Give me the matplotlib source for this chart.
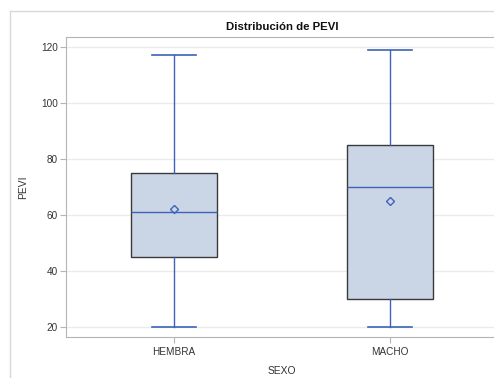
import matplotlib
matplotlib.use('Agg')
import matplotlib.pyplot as plt
from matplotlib.lines import Line2D

# PEVI summary per sex
categories = ['HEMBRA', 'MACHO']
whisker_low = [20, 20]
q1 = [45, 30]
median = [61, 70]
q3 = [75, 85]
whisker_high = [117, 119]
mean = [62, 65]
y_ticks = [20, 40, 60, 80, 100, 120]

plt.rcParams['font.family'] = ['Liberation Sans', 'DejaVu Sans']

line_blue = '#3D63B8'
fill_blue = '#CAD5E6'

fig = plt.figure(figsize=(4.94, 3.78), dpi=100)
# outer graph frame (left and top edges show)
fig.add_artist(Line2D([10 / 494, 10 / 494], [0, 1 - 11 / 378], transform=fig.transFigure,
                      color='#D8D8D8', lw=1))
fig.add_artist(Line2D([10 / 494, 1], [1 - 11 / 378, 1 - 11 / 378], transform=fig.transFigure,
                      color='#D8D8D8', lw=1))

ax = fig.add_axes([66 / 494, 41 / 378, 432 / 494, 300 / 378])

stats = []
for i, name in enumerate(categories):
    stats.append({'label': name, 'whislo': whisker_low[i], 'q1': q1[i], 'med': median[i],
                  'q3': q3[i], 'whishi': whisker_high[i], 'mean': mean[i], 'fliers': []})

ax.bxp(stats, positions=range(len(categories)), widths=0.4, showmeans=True,
       patch_artist=True, showfliers=False,
       boxprops=dict(facecolor=fill_blue, edgecolor='#3A3A3A', lw=1),
       medianprops=dict(color=line_blue, lw=1),
       whiskerprops=dict(color=line_blue, lw=1),
       capprops=dict(color=line_blue, lw=1.2),
       capwidths=0.2,
       meanprops=dict(marker='D', markerfacecolor='none', markeredgecolor=line_blue,
                      markersize=4.5, markeredgewidth=1))

ax.set_xlim(-0.5, 1.5)
ax.set_ylim(16.4, 123.6)
ax.set_yticks(y_ticks)
ax.set_xticks(range(len(categories)))
ax.set_xticklabels(categories)
ax.yaxis.grid(True, color='#EBEBEB', lw=1)
ax.set_axisbelow(True)

for side in ['left', 'bottom', 'top']:
    ax.spines[side].set_color('#B4B4B4')
ax.spines['right'].set_visible(False)
ax.tick_params(colors='#B4B4B4', labelcolor='#333333', labelsize=7.2, length=4, width=0.8)
ax.tick_params(axis='y', pad=2)

ax.set_title('Distribución de PEVI', fontsize=8.2, fontweight='bold', color='#111111', pad=5)
ax.set_xlabel('SEXO', fontsize=7.4, color='#333333', labelpad=6)
ax.set_ylabel('PEVI', fontsize=7.4, color='#333333', labelpad=9)

fig.savefig('out.png', dpi=100)
